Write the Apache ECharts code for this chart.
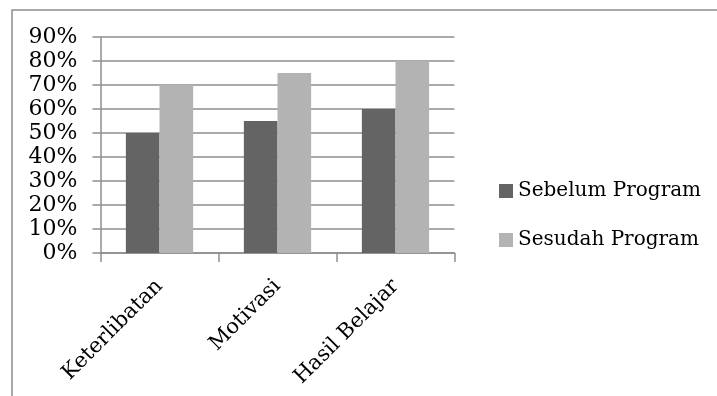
<!DOCTYPE html>
<html>
<head>
<meta charset="utf-8">
<script src="https://cdn.jsdelivr.net/npm/echarts@6/dist/echarts.min.js"></script>
<style>
  html, body { margin: 0; padding: 0; background: #fff; }
  #chart { width: 717px; height: 396px; }
</style>
</head>
<body>
<div id="chart"></div>
<script>
// Program participation results, before vs. after
const categories = ['Keterlibatan', 'Motivasi', 'Hasil Belajar'];
const sebelumProgram = [0.50, 0.55, 0.60];
const sesudahProgram = [0.70, 0.75, 0.80];
const seriesNames = ['Sebelum Program', 'Sesudah Program'];

const FONT = 'DejaVu Serif';
const LINE = '#8e8e8e';

const chart = echarts.init(document.getElementById('chart'), null, { renderer: 'canvas' });

chart.setOption({
  backgroundColor: '#ffffff',
  animation: false,
  textStyle: { fontFamily: FONT, color: '#000' },
  graphic: [{
    type: 'rect',
    shape: { x: 12, y: 10, width: 760, height: 440 },
    style: { fill: 'none', stroke: '#8c8c8c', lineWidth: 1.5 },
    silent: true
  }],
  grid: { left: 100.5, right: 262.5, top: 37, bottom: 143, containLabel: false },
  legend: {
    orient: 'vertical',
    left: 494,
    top: 176,
    itemWidth: 14,
    itemHeight: 14,
    itemGap: 29,
    icon: 'rect',
    textStyle: { fontFamily: FONT, fontSize: 20, color: '#000' },
    data: seriesNames
  },
  xAxis: {
    type: 'category',
    data: categories,
    axisLine: { lineStyle: { color: LINE, width: 1.5 } },
    axisTick: { show: true, length: 9, lineStyle: { color: LINE, width: 1.5 } },
    axisLabel: { rotate: 45, margin: 30, fontFamily: FONT, fontSize: 21, color: '#000' }
  },
  yAxis: {
    type: 'value',
    min: 0,
    max: 0.9,
    interval: 0.1,
    axisLine: { show: true, lineStyle: { color: LINE, width: 1.5 } },
    axisTick: { show: true, length: 8, lineStyle: { color: LINE, width: 1.5 } },
    splitLine: { show: true, lineStyle: { color: LINE, width: 1.5 } },
    axisLabel: {
      margin: 23,
      fontFamily: FONT,
      fontSize: 22,
      color: '#000',
      formatter: v => Math.round(v * 100) + '%'
    }
  },
  series: [
    {
      name: seriesNames[0],
      type: 'bar',
      data: sebelumProgram,
      barGap: '0%',
      barCategoryGap: '43%',
      itemStyle: { color: '#646464' }
    },
    {
      name: seriesNames[1],
      type: 'bar',
      data: sesudahProgram,
      barGap: '0%',
      barCategoryGap: '43%',
      itemStyle: { color: '#b3b3b3' }
    }
  ]
});
</script>
</body>
</html>
